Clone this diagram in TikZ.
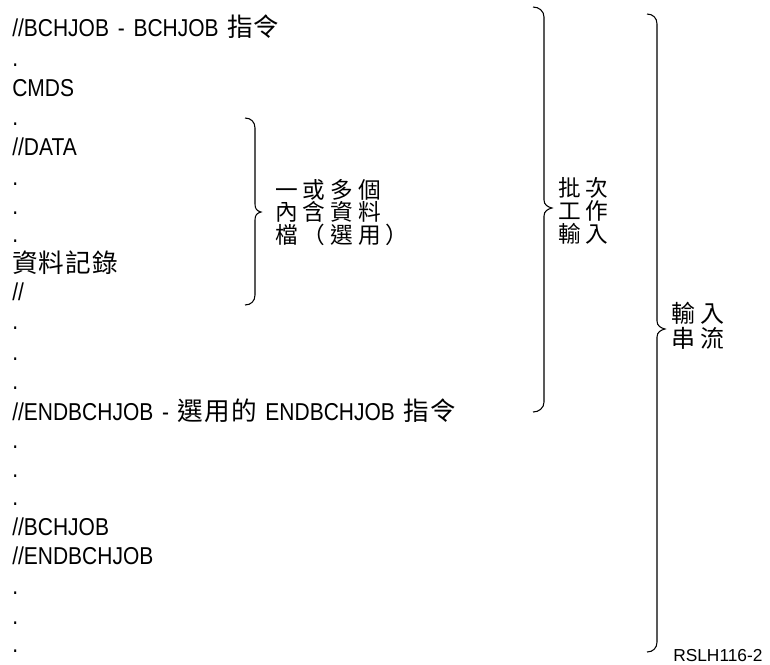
\documentclass[tikz,border=0pt]{standalone}
\usepackage{fontspec}
\setmainfont[FakeStretch=0.86,WordSpace=1.5]{Liberation Sans}
\newfontfamily\cjk[Scale=1.05,LetterSpace=4]{Noto Sans CJK TC}
\newfontfamily\cjklab[LetterSpace=22]{Noto Sans CJK TC}
\newfontfamily\cjklabb[LetterSpace=19]{Noto Sans CJK TC}
\newfontfamily\cjklabc[LetterSpace=20]{Noto Sans CJK TC}
\newfontfamily\codefont{Liberation Sans}
\newcommand{\mybrace}[6]{%
  \draw[bracestyle] (#1,#4) .. controls (#1+6,#4) and (#2,#4+4) .. (#2,#4+10)
    -- (#2,#6-8) .. controls (#2,#6-3) and (#3-4,#6-1) .. (#3,#6)
    .. controls (#3-4,#6+1) and (#2,#6+3) .. (#2,#6+8)
    -- (#2,#5-10) .. controls (#2,#5-4) and (#1+6,#5) .. (#1,#5);}
\begin{document}
\begin{tikzpicture}[x=0.75pt,y=-0.75pt,
  line/.style={anchor=base west,inner sep=0pt,font=\fontsize{18.3}{20}\selectfont},
  lab/.style={anchor=west,inner sep=0pt,align=left},
  bracestyle/.style={line width=0.8pt}]
\useasboundingbox (0,0) rectangle (770,664);
\node[line] (l1) at (12,36.5) {//BCHJOB - BCHJOB {\cjk 指令}};
\node[line] (l2) at (12,66.5) {.};
\node[line] (l3) at (12,96.5) {CMDS};
\node[line] (l4) at (12,125) {.};
\node[line] (l5) at (12,155) {//DATA};
\node[line] (l6) at (12,185) {.};
\node[line] (l7) at (12,214) {.};
\node[line] (l8) at (12,242) {.};
\node[line] (l9) at (12,272) {{\cjk 資料記錄}};
\node[line] (l10) at (12,300) {//};
\node[line] (l11) at (12,329) {.};
\node[line] (l12) at (12,360) {.};
\node[line] (l13) at (12,389) {.};
\node[line] (l14) at (12,420) {//ENDBCHJOB - {\cjk 選用的} ENDBCHJOB {\cjk 指令}};
\node[line] (l15) at (12,448) {.};
\node[line] (l16) at (12,477) {.};
\node[line] (l17) at (12,505) {.};
\node[line] (l18) at (12,535) {//BCHJOB};
\node[line] (l19) at (12,564) {//ENDBCHJOB};
\node[line] (l20) at (12,594) {.};
\node[line] (l21) at (12,624) {.};
\node[line] (l22) at (12,652) {.};
% braces
\mybrace{245}{255}{261}{118}{305}{212}
\mybrace{533}{544}{552}{7}{412}{208}
\mybrace{647}{657}{665}{14}{652}{329}
% labels
\node[lab,font=\fontsize{17}{17}\selectfont\cjklab] (data) at (275,212.5) {一或多個\\內含資料\\檔（選用）};
\node[lab,font=\fontsize{17}{17.3}\selectfont\cjklabb] (batch) at (558,211) {批次\\工作\\輸入};
\node[lab,font=\fontsize{18}{18.75}\selectfont\cjklabc] (stream) at (671,326) {輸入\\串流};
\node[anchor=base west,inner sep=0pt,font=\fontsize{13}{14}\selectfont\codefont] (code) at (673,661) {RSLH116-2};
\end{tikzpicture}
\end{document}
